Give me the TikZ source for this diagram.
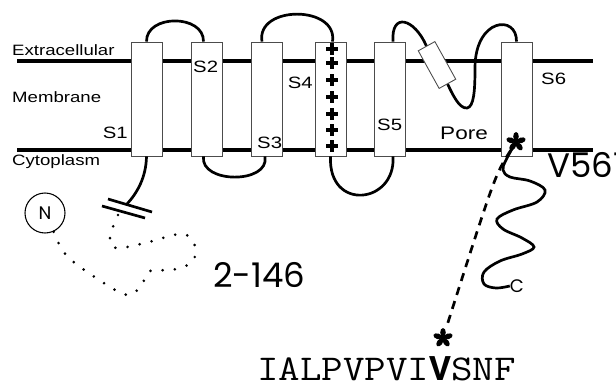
\documentclass[tikz,border=0pt]{standalone}
\usepackage{fontspec}
\setmainfont{Liberation Sans}
\newfontfamily\labelfont[FakeStretch=1.24]{Liberation Sans}
\newfontfamily\gothicfont{Poppins}
\newfontfamily\seqfont[FakeStretch=1.15]{Latin Modern Mono}
\newfontfamily\seqboldfont{Liberation Mono}
\usetikzlibrary{positioning}

\tikzset{
  membrane/.style={line width=2.8pt},
  chain/.style={line width=2.3pt},
  segment/.style={draw=black!70, line width=0.75pt, fill=white, minimum width=0.93cm, minimum height=3.42cm, inner sep=0pt},
  helix/.style={draw=black!70, line width=0.75pt, fill=white, minimum width=1.29cm, minimum height=0.57cm, inner sep=0pt},
  region/.style={font=\labelfont\fontsize{12.8}{14}\selectfont, inner sep=0pt},
  seglabel/.style={font=\labelfont\fontsize{14}{16}\selectfont, inner sep=0pt},
  bigtag/.style={font=\gothicfont\fontsize{29}{32}\selectfont, inner sep=0pt},
  term/.style={font=\gothicfont\fontsize{15.5}{17}\selectfont, inner sep=0pt},
  charge/.style={line width=2.8pt},
  deleted/.style={line width=2.5pt, line cap=round, dash pattern=on 0pt off 10.5pt},
  vlink/.style={line width=2.3pt, dash pattern=on 7pt off 5.5pt, shorten <=0.3cm, shorten >=0.45cm},
  petalstar/.pic={\fill (0,0) circle (2.6);
    \foreach \a in {90,18,-54,-126,162} \fill[rotate=\a] (5.5,0) ellipse (4.5 and 2.8);}
}

\begin{document}
\begin{tikzpicture}[x=0.03cm, y=-0.03cm]
  \useasboundingbox (0,0) rectangle (616,386);
  % Membrane
  \coordinate (exl) at (17,61); \coordinate (exr) at (593,61);
  \coordinate (cyl) at (17,150); \coordinate (cyr) at (593,150);
  \draw[membrane] (exl) -- (exr);
  \draw[membrane] (cyl) -- (cyr);
  \node[region, anchor=base west] (extra) at (12,55) {Extracellular};
  \node[region, anchor=base west] (memb) at (12,102) {Membrane};
  \node[region, anchor=base west] (cyto) at (12,165) {Cytoplasm};
  % Transmembrane segments
  \node[segment] (s1) at (146.5,99) {};
  \node[segment] (s2) at (206.5,99) {};
  \node[segment] (s3) at (267,99) {};
  \node[segment] (s4) at (330.5,99) {};
  \node[segment] (s5) at (390,99) {};
  \node[segment] (s6) at (516.5,99) {};
  \node[helix, rotate=-61] (phelix) at (437,65) {};
  \node[seglabel, anchor=base east] (l1) at (128,138) {S1};
  \node[seglabel, anchor=base west] (l2) at (193,72) {S2};
  \node[seglabel, anchor=base west] (l3) at (257,148) {S3};
  \node[seglabel, anchor=base east] (l4) at (313,88) {S4};
  \node[seglabel, anchor=base west] (l5) at (377,130) {S5};
  \node[seglabel, anchor=base west] (l6) at (541,84) {S6};
  \node[seglabel, font=\labelfont\fontsize{15.5}{17}\selectfont, anchor=base west] (pore) at (440,139) {Pore};
  % S4 charges
  \foreach \y in {49,63,80,97,114,130,146}
    \draw[charge] (326,\y) -- (338,\y) (332,\y-6) -- (332,\y+6);
  % Loops
  \draw[chain] (s1.north) .. controls (146,14) and (204,14) .. (s2.93);
  \draw[chain] (s2.-93) .. controls (200,184) and (270,184) .. (s3.-92);
  \draw[chain] (s3.95) .. controls (256,5) and (338,5) .. (s4.88);
  \draw[chain] (s4.south) .. controls (328,212) and (396,204) .. (s5.-87);
  \draw[chain] (s5.87) .. controls (391,12) and (414,18) .. (phelix.west);
  \draw[chain] (phelix.east) .. controls (452,93) and (459,109) .. (467,108)
    .. controls (474,107) and (475,90) .. (475,68)
    .. controls (475,18) and (517,14) .. (s6.north);
  % N terminus
  \coordinate (cut) at (127,204);
  \draw[chain] (s1.south) .. controls (146,178) and (137,193) .. (cut);
  \draw[chain] (108,199) -- (152,212);
  \draw[chain] (102,206) -- (145,218);
  \node[draw, circle, line width=0.9pt, minimum size=1.2cm, term] (nterm) at (45,213) {N};
  \draw[deleted] plot[smooth, tension=0.6] coordinates {(118,215) (110,237) (116,248) (145,243)
    (182,234) (195,246) (192,262) (172,270) (150,271) (141,286) (128,295) (107,285) (68,257) (nterm.-65)};
  \node[bigtag, anchor=base west] (deltag) at (213,287) {2-146};
  % C terminus
  \coordinate (vtop) at (516,142);
  \node[term] (cterm) at (517,286) {C};
  \draw[chain] plot[smooth, tension=0.6] coordinates {(vtop) (506,160) (503,170) (510,177) (530,181)
    (545,190) (537,202) (513,210) (497,219) (503,229) (522,238) (534,247) (522,254) (500,261)
    (484,272) (484,284) (496,288) (cterm.west)};
  \node[bigtag, anchor=base west] (muttag) at (547,177) {V561};
  % Pore residue
  \coordinate (vbot) at (443,338);
  \draw[vlink] (vtop) .. controls (495,175) .. (vbot);
  \pic at (vtop) {petalstar};
  \pic at (vbot) {petalstar};
  \node[font=\seqfont\fontsize{31}{33}\selectfont, inner sep=0pt, anchor=base west] (seqtxt) at (257,380)
    {IALPVPVI{\seqboldfont\bfseries V}SNF};
\end{tikzpicture}
\end{document}
